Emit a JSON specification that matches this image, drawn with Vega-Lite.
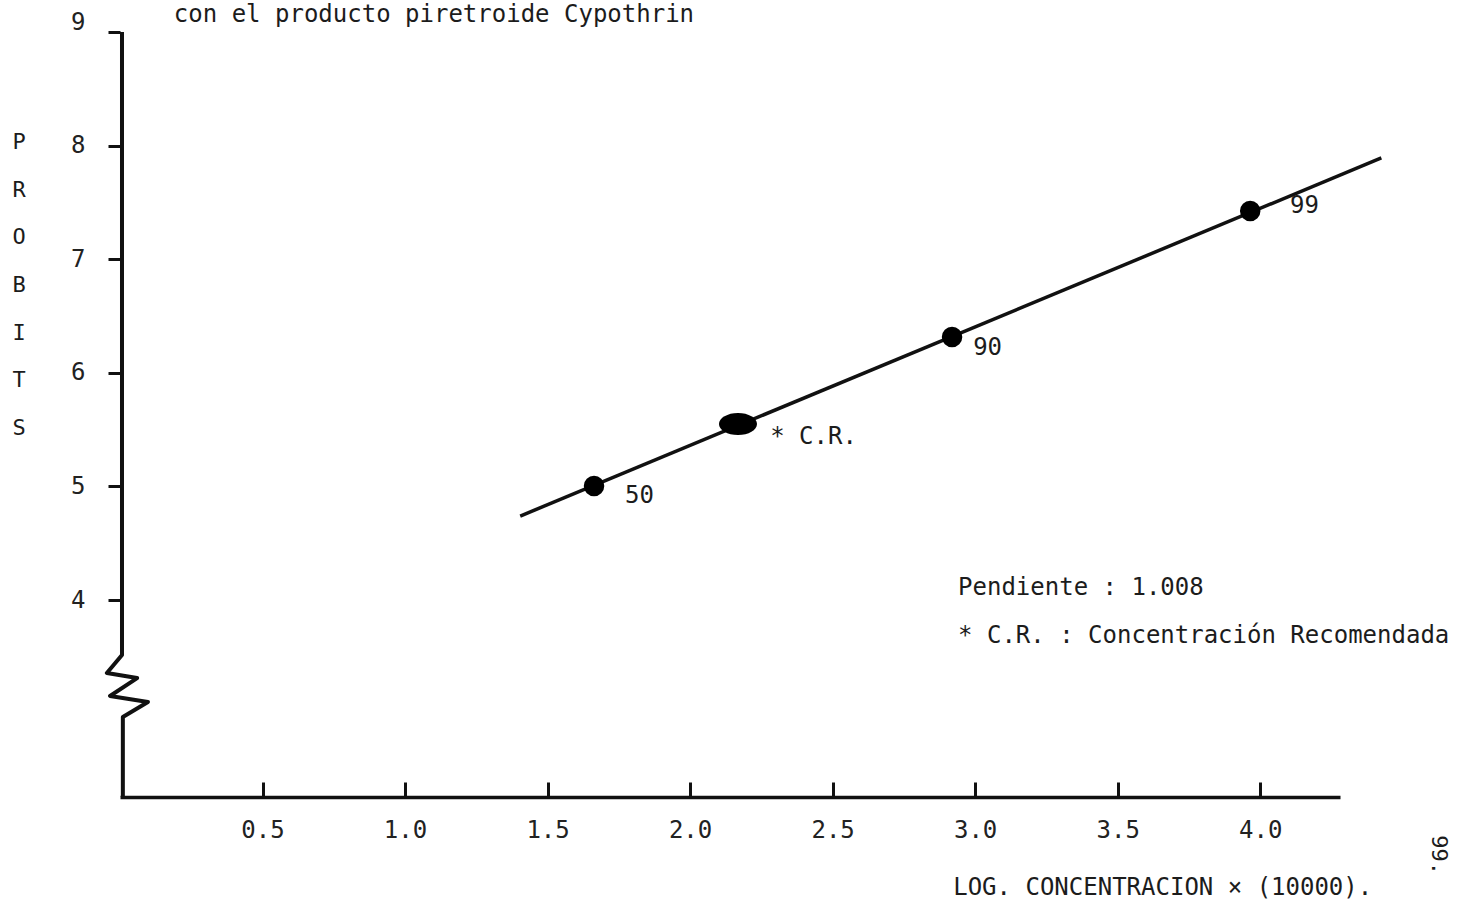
{
  "$schema": "https://vega.github.io/schema/vega-lite/v6.json",
  "width": 1220,
  "height": 765,
  "autosize": {"type": "none"},
  "padding": {"left": 120, "top": 32, "right": 119, "bottom": 113},
  "background": "white",
  "config": {
    "view": {"stroke": null},
    "text": {"font": "DejaVu Sans Mono", "fontSize": 24, "color": "#1c1c1c"}
  },
  "datasets": {
    "fit": [{"x": 1.404, "y": 4.739}, {"x": 4.425, "y": 7.891}],
    "yaxis": [
      {"i": 1, "x": 0.007, "y": 9},
      {"i": 2, "x": 0.007, "y": 3.516},
      {"i": 3, "x": -0.046, "y": 3.357},
      {"i": 4, "x": 0.06, "y": 3.313},
      {"i": 5, "x": -0.035, "y": 3.155},
      {"i": 6, "x": 0.098, "y": 3.102},
      {"i": 7, "x": 0.01, "y": 2.97},
      {"i": 8, "x": 0.01, "y": 2.266}
    ],
    "pts": [
      {"pct": "50", "x": 1.663, "y": 5.004},
      {"pct": "90", "x": 2.919, "y": 6.315},
      {"pct": "99", "x": 3.965, "y": 7.424}
    ],
    "cr": [{"x": 2.168, "y": 5.549}],
    "notes": [
      {"x": 0.189, "y": 9.15, "t": "con el producto piretroide Cypothrin"},
      {"x": 1.772, "y": 4.915, "t": "50"},
      {"x": 2.281, "y": 5.435, "t": "* C.R."},
      {"x": 2.993, "y": 6.218, "t": "90"},
      {"x": 4.105, "y": 7.468, "t": "99"},
      {"x": 2.94, "y": 4.106, "t": "Pendiente : 1.008"},
      {"x": 2.94, "y": 3.683, "t": "* C.R. : Concentración Recomendada"},
      {"x": 2.923, "y": 1.465, "t": "LOG. CONCENTRACION × (10000)."}
    ],
    "ytitle": [{"x": -0.354, "y": 8.032, "t": "P\nR\nO\nB\nI\nT\nS"}],
    "page": [{"x": 4.628, "y": 1.755, "t": "99."}]
  },
  "encoding": {
    "x": {
      "field": "x",
      "type": "quantitative",
      "scale": {"domain": [0, 4.28], "nice": false, "zero": false},
      "axis": {
        "values": [0.5, 1, 1.5, 2, 2.5, 3, 3.5, 4],
        "format": ".1f",
        "grid": false,
        "domainColor": "#111",
        "domainWidth": 3.5,
        "tickColor": "#111",
        "tickWidth": 3,
        "tickSize": -15,
        "labelFont": "DejaVu Sans Mono",
        "labelFontSize": 24,
        "labelColor": "#222",
        "labelPadding": 36,
        "title": null
      }
    },
    "y": {
      "field": "y",
      "type": "quantitative",
      "scale": {"domain": [2.266, 9], "nice": false, "zero": false},
      "axis": {
        "values": [4, 5, 6, 7, 8, 9],
        "format": "d",
        "grid": false,
        "domain": false,
        "tickColor": "#111",
        "tickWidth": 3,
        "tickSize": 12,
        "labelFont": "DejaVu Sans Mono",
        "labelFontSize": 24,
        "labelColor": "#222",
        "labelPadding": 23,
        "labelOffset": {"condition": {"test": "datum.value == 9", "value": -10}, "value": 0},
        "title": null
      }
    }
  },
  "layer": [
    {
      "data": {"name": "yaxis"},
      "mark": {"type": "line", "color": "#111", "strokeWidth": 4, "strokeJoin": "round", "clip": false},
      "encoding": {"order": {"field": "i", "type": "quantitative"}}
    },
    {
      "data": {"name": "fit"},
      "mark": {"type": "line", "color": "#111", "strokeWidth": 3.5}
    },
    {
      "data": {"name": "pts"},
      "mark": {"type": "point", "shape": "circle", "filled": true, "color": "#000", "opacity": 1, "size": 420}
    },
    {
      "data": {"name": "cr"},
      "mark": {"type": "point", "shape": "M-1,0A1,0.58,0,1,1,1,0A1,0.58,0,1,1,-1,0Z", "filled": true, "color": "#000", "opacity": 1, "size": 1444}
    },
    {
      "data": {"name": "notes"},
      "mark": {"type": "text", "align": "left", "baseline": "middle", "clip": false},
      "encoding": {"text": {"field": "t"}}
    },
    {
      "data": {"name": "ytitle"},
      "mark": {"type": "text", "align": "center", "baseline": "middle", "lineBreak": "\n", "lineHeight": 47.7, "fontSize": 22},
      "encoding": {"text": {"field": "t"}}
    },
    {
      "data": {"name": "page"},
      "mark": {"type": "text", "align": "center", "baseline": "middle", "angle": 90, "fontSize": 22},
      "encoding": {"text": {"field": "t"}}
    }
  ]
}
